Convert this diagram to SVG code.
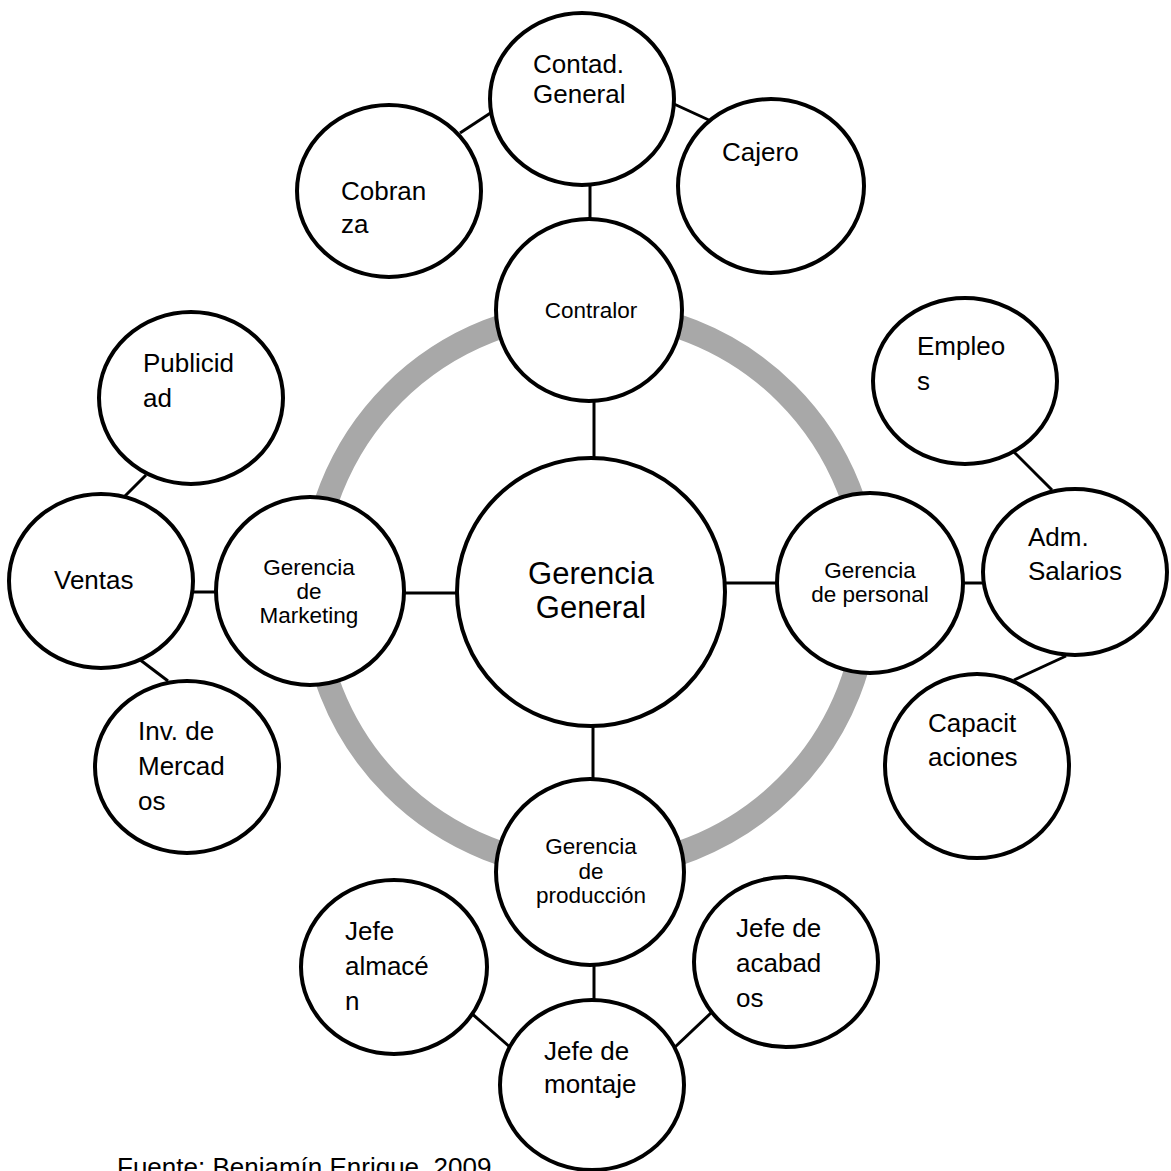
<svg xmlns="http://www.w3.org/2000/svg" width="1171" height="1171" viewBox="0 0 1171 1171">
<style>
.n{fill:#fff;stroke:#000;stroke-width:4}
.c line{stroke:#000;stroke-width:3}
text{font-family:"Liberation Sans",Arial,sans-serif;fill:#000}
.b{font-size:26px}
.s{font-size:22.5px;text-anchor:middle}
.g{font-size:31px;text-anchor:middle}
</style>
<rect width="1171" height="1171" fill="#fff"/>
<circle id="ring" cx="590" cy="590" r="278" fill="none" stroke="#a8a8a8" stroke-width="24"/>
<g class="c" id="connectors">
<line x1="590" y1="183" x2="590" y2="221"/>
<line x1="460" y1="133" x2="492" y2="112"/>
<line x1="674" y1="104" x2="711" y2="121"/>
<line x1="594" y1="400" x2="594" y2="460"/>
<line x1="402" y1="593" x2="459" y2="593"/>
<line x1="191" y1="592" x2="218" y2="592"/>
<line x1="146" y1="475" x2="124" y2="497"/>
<line x1="139" y1="659" x2="168" y2="681"/>
<line x1="723" y1="583" x2="779" y2="583"/>
<line x1="961" y1="583" x2="985" y2="583"/>
<line x1="1014" y1="452" x2="1052" y2="490"/>
<line x1="1066" y1="656" x2="1014" y2="680"/>
<line x1="593" y1="724" x2="593" y2="781"/>
<line x1="594" y1="963" x2="594" y2="1002"/>
<line x1="470" y1="1012" x2="511" y2="1048"/>
<line x1="712" y1="1012" x2="674" y2="1048"/>
</g>
<g id="contad"><ellipse class="n" cx="582" cy="99" rx="92" ry="86"/><text class="b" x="533" y="73">Contad.</text><text class="b" x="533" y="103">General</text></g>
<g id="cobranza"><ellipse class="n" cx="389" cy="191" rx="92" ry="86"/><text class="b" x="341" y="200">Cobran</text><text class="b" x="341" y="233">za</text></g>
<g id="cajero"><ellipse class="n" cx="771" cy="186" rx="93" ry="87"/><text class="b" x="722" y="161">Cajero</text></g>
<g id="contralor"><ellipse class="n" cx="589" cy="310" rx="93" ry="91"/><text class="s" x="591" y="318">Contralor</text></g>
<g id="publicidad"><ellipse class="n" cx="191" cy="398" rx="92" ry="86"/><text class="b" x="143" y="372">Publicid</text><text class="b" x="143" y="407">ad</text></g>
<g id="ventas"><ellipse class="n" cx="101" cy="581" rx="92" ry="87"/><text class="b" x="54" y="589">Ventas</text></g>
<g id="marketing"><ellipse class="n" cx="310" cy="591" rx="94" ry="94"/><text class="s" x="309" y="575">Gerencia</text><text class="s" x="309" y="599">de</text><text class="s" x="309" y="623">Marketing</text></g>
<g id="inv"><ellipse class="n" cx="187" cy="767" rx="92" ry="86"/><text class="b" x="138" y="740">Inv. de</text><text class="b" x="138" y="775">Mercad</text><text class="b" x="138" y="810">os</text></g>
<g id="general"><circle class="n" cx="591" cy="592" r="134"/><text class="g" x="591" y="584">Gerencia</text><text class="g" x="591" y="618">General</text></g>
<g id="empleos"><ellipse class="n" cx="965" cy="381" rx="92" ry="83"/><text class="b" x="917" y="355">Empleo</text><text class="b" x="917" y="390">s</text></g>
<g id="personal"><ellipse class="n" cx="870" cy="583" rx="93" ry="90"/><text class="s" x="870" y="578">Gerencia</text><text class="s" x="870" y="602">de personal</text></g>
<g id="adm"><ellipse class="n" cx="1075" cy="572" rx="92" ry="83"/><text class="b" x="1028" y="546">Adm.</text><text class="b" x="1028" y="580">Salarios</text></g>
<g id="capacitaciones"><ellipse class="n" cx="977" cy="766" rx="92" ry="92"/><text class="b" x="928" y="732">Capacit</text><text class="b" x="928" y="766">aciones</text></g>
<g id="produccion"><ellipse class="n" cx="590" cy="872" rx="94" ry="93"/><text class="s" x="591" y="854">Gerencia</text><text class="s" x="591" y="879">de</text><text class="s" x="591" y="903">producción</text></g>
<g id="almacen"><ellipse class="n" cx="394" cy="967" rx="93" ry="87"/><text class="b" x="345" y="940">Jefe</text><text class="b" x="345" y="975">almacé</text><text class="b" x="345" y="1010">n</text></g>
<g id="acabados"><ellipse class="n" cx="786" cy="962" rx="92" ry="85"/><text class="b" x="736" y="937">Jefe de</text><text class="b" x="736" y="972">acabad</text><text class="b" x="736" y="1007">os</text></g>
<g id="montaje"><ellipse class="n" cx="592" cy="1085" rx="92" ry="85"/><text class="b" x="544" y="1060">Jefe de</text><text class="b" x="544" y="1093">montaje</text></g>
<text class="b" x="117" y="1176">Fuente: Benjamín Enrique, 2009</text>
</svg>
